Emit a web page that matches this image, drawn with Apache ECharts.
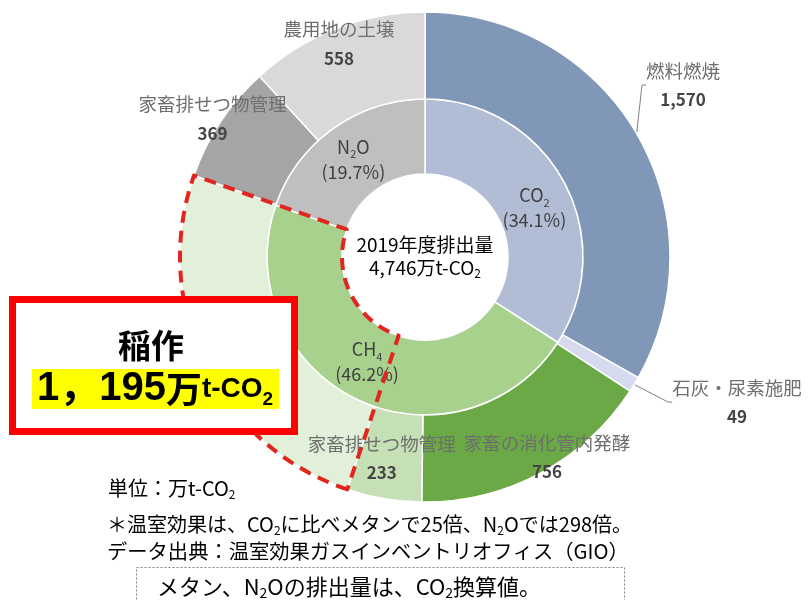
<!DOCTYPE html>
<html><head><meta charset="utf-8">
<script src="https://cdn.jsdelivr.net/npm/echarts@6/dist/echarts.min.js"></script>
<style>html,body{margin:0;padding:0;background:#fff}#c{width:810px;height:600px}</style>
</head><body><div id="c"></div>
<script>
// ---- data ----
const gasNames = ['CO2', 'CH4', 'N2O'];
const gasShares = [34.1, 46.2, 19.7];
const sourceNames = ['燃料燃焼', '石灰・尿素施肥', '家畜の消化管内発酵', '家畜排せつ物管理', '稲作', '家畜排せつ物管理', '農用地の土壌'];
const sourceValues = [1570, 49, 756, 233, 1195, 369, 558];
const highlightIndex = 4;
const centerLines = ['2019年度排出量', '4,746万t-CO2'];
const highlightTitle = '稲作';
const highlightValue = '1，195';
const unitText = '単位：万t-CO2';
const note1 = '＊温室効果は、CO2に比べメタンで25倍、N2Oでは298倍。';
const note2 = 'データ出典：温室効果ガスインベントリオフィス（GIO）';
const boxNote = 'メタン、N2Oの排出量は、CO2換算値。';

// ---- styles ----
const FONT = "'Noto Sans CJK JP', sans-serif";
const gasColors = ['#b1bdd5', '#a9d18e', '#bfbfbf'];
const sourceColors = ['#8197b8', '#d6daee', '#6aa946', '#c5e0b4', '#e2f0d9', '#a5a5a5', '#d9d9d9'];
const CENTER = [425, 257];
// per-label layout tweaks (outer ring)
const labelTweak = [
  { x: 683, y: 86 },
  { x: 737, y: 403 },
  { dx: 26, dy: 20 },
  { dx: -9, dy: 0 },
  null,
  { dx: -42, dy: -25 },
  { dx: -12, dy: -22 }
];
// per-label layout tweaks (inner ring)
const innerTweak = [
  { dx: 1, dy: 10 },
  { dx: -4, dy: -6 },
  { dx: 0, dy: 3 }
];

// subscript helper: digits following letters become subscript tokens
function subRich(str, base, sub) {
  return str.replace(/([A-Za-z])(\d)/g, '$1}{' + sub + '|$2}{' + base + '|').replace(/^/, '{' + base + '|') + '}';
}
function fmt(n) { return n.toString().replace(/\B(?=(\d{3})+(?!\d))/g, ','); }

const outerData = sourceNames.map((n, i) => {
  const d = { name: n, value: sourceValues[i], itemStyle: { color: sourceColors[i] } };
  if (i === 0 || i === 1) {
    d.label = { position: 'outside' };
    d.labelLine = { show: true };
  }
  if (i === highlightIndex) d.label = { show: false };
  return d;
});

const innerData = gasNames.map((n, i) => ({ name: n, value: gasShares[i], itemStyle: { color: gasColors[i] } }));

const before = sourceValues.slice(0, highlightIndex).reduce((a, b) => a + b, 0);
const after = sourceValues.slice(highlightIndex + 1).reduce((a, b) => a + b, 0);
const overlayData = [
  { value: before, itemStyle: { color: 'transparent', borderWidth: 0 } },
  { value: sourceValues[highlightIndex], itemStyle: { color: 'transparent', borderColor: '#e0261e', borderWidth: 4, borderType: [12, 8] } },
  { value: after, itemStyle: { color: 'transparent', borderWidth: 0 } }
];

const chart = echarts.init(document.getElementById('c'), null, { renderer: 'canvas' });

const subStyles = (size, color, weight, lh) => ({
  t: { fontSize: size, color: color, fontFamily: FONT, fontWeight: weight || 'normal', lineHeight: lh || size + 4, verticalAlign: 'middle' },
  s: { fontSize: Math.round(size * 0.62), color: color, fontFamily: FONT, fontWeight: weight || 'normal', lineHeight: Math.round(size * 0.62) - 2, verticalAlign: 'bottom' }
});

chart.setOption({
  animation: false,
  series: [
    {
      type: 'pie', center: CENTER, radius: [83, 158], startAngle: 90, clockwise: true,
      avoidLabelOverlap: false, silent: true,
      itemStyle: { borderColor: '#fff', borderWidth: 1.5 },
      label: {
        show: true, position: 'inside',
        formatter: p => subRich(p.name, 't', 's') + '\n{t|(' + p.value.toFixed(1) + '%)}',
        rich: subStyles(18, '#404040', 'normal', 25)
      },
      labelLayout: function (p) {
        const t = innerTweak[p.dataIndex];
        return t ? { dx: t.dx, dy: t.dy } : {};
      },
      data: innerData
    },
    {
      type: 'pie', center: CENTER, radius: [158, 245], startAngle: 90, clockwise: true,
      avoidLabelOverlap: false, silent: true,
      itemStyle: { borderColor: '#fff', borderWidth: 1.5 },
      label: {
        show: true, position: 'inside', alignTo: 'none',
        formatter: p => '{n|' + p.name + '}\n{v|' + fmt(p.value) + '}',
        rich: {
          n: { fontSize: 18.5, color: '#6e6e6e', fontFamily: FONT, lineHeight: 28, align: 'center' },
          v: { fontSize: 17, color: '#454545', fontFamily: FONT, fontWeight: 'bold', lineHeight: 30, align: 'center' }
        }
      },
      labelLine: { show: false, lineStyle: { color: '#7f7f7f', width: 1 }, length: 10, length2: 4 },
      labelLayout: function (p) {
        const t = labelTweak[p.dataIndex];
        if (!t) return {};
        if (t.x != null) return { x: t.x, y: t.y, align: 'center', verticalAlign: 'middle' };
        return { dx: t.dx, dy: t.dy };
      },
      data: outerData
    },
    {
      type: 'pie', center: CENTER, radius: [83, 245], startAngle: 90, clockwise: true,
      silent: true, z: 5, label: { show: false }, labelLine: { show: false },
      data: overlayData
    }
  ],
  graphic: [
    {
      type: 'text', x: CENTER[0], y: 256, z: 50,
      style: {
        text: '{t|' + centerLines[0] + '}\n' + subRich(centerLines[1], 't', 's'),
        align: 'center', verticalAlign: 'middle',
        rich: subStyles(19, '#595959')
      }
    },
    {
      type: 'rect', z: 100, shape: { x: 12.5, y: 299.5, width: 282, height: 132 },
      style: { fill: '#ffffff', stroke: '#ff0000', lineWidth: 7 }
    },
    {
      type: 'rect', z: 101, shape: { x: 32, y: 369, width: 247, height: 40 },
      style: { fill: '#ffff00' }
    },
    {
      type: 'text', z: 102, x: 151, y: 345,
      style: { text: highlightTitle, align: 'center', verticalAlign: 'middle', fontSize: 33, fontWeight: 'bold', fontFamily: FONT, fill: '#000' }
    },
    {
      type: 'text', z: 102, x: 155, y: 389,
      style: {
        text: '{d|' + highlightValue + '}{m|万}{t|t-CO}{s|2}',
        align: 'center', verticalAlign: 'middle',
        rich: {
          d: { fontSize: 40, fontWeight: 'bold', fontFamily: "'Liberation Sans', 'Noto Sans CJK JP', sans-serif", color: '#000', lineHeight: 40, verticalAlign: 'middle' },
          m: { fontSize: 36, fontWeight: 'bold', fontFamily: FONT, color: '#000', lineHeight: 40, verticalAlign: 'middle' },
          t: { fontSize: 28, fontWeight: 'bold', fontFamily: "'Liberation Sans', sans-serif", color: '#000', lineHeight: 40, verticalAlign: 'middle' },
          s: { fontSize: 19, fontWeight: 'bold', fontFamily: "'Liberation Sans', sans-serif", color: '#000', lineHeight: 24, verticalAlign: 'bottom' }
        }
      }
    },
    {
      type: 'text', z: 50, x: 108, y: 488,
      style: { text: subRich(unitText, 't', 's'), align: 'left', verticalAlign: 'middle', rich: subStyles(20, '#6e6e6e') }
    },
    {
      type: 'text', z: 50, x: 107, y: 524,
      style: { text: subRich(note1, 't', 's'), align: 'left', verticalAlign: 'middle', rich: subStyles(20, '#6e6e6e') }
    },
    {
      type: 'text', z: 50, x: 107, y: 551,
      style: { text: subRich(note2, 't', 's'), align: 'left', verticalAlign: 'middle', rich: subStyles(20.3, '#6e6e6e') }
    },
    {
      type: 'rect', z: 50, shape: { x: 136.5, y: 567.5, width: 488, height: 50 },
      style: { fill: 'none', stroke: '#7f7f7f', lineWidth: 1, lineDash: [2, 2] }
    },
    {
      type: 'text', z: 51, x: 157, y: 587,
      style: { text: subRich(boxNote, 't', 's'), align: 'left', verticalAlign: 'middle', rich: subStyles(22, '#000000') }
    }
  ]
});
</script>
</body></html>
